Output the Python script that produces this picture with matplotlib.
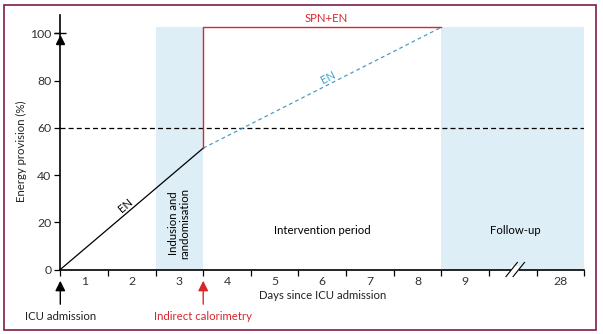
import numpy as np
import matplotlib
matplotlib.use("Agg")
import matplotlib.pyplot as plt
from matplotlib.transforms import blended_transform_factory
from matplotlib.patches import Rectangle

plt.rcParams["font.family"] = ["Lato", "DejaVu Sans"]

# data
en_days = [0, 3]
en_values = [0, 51.4]
en_target_days = [3, 8]
en_target_values = [51.4, 102.6]
spn_days = [3, 3, 8]
spn_values = [51.4, 102.6, 102.6]
threshold = 60
shaded_periods = [(2, 3), (8, 11)]
shade_top = 102.6
yticks = [0, 20, 40, 60, 80, 100]
xtick_pos = np.arange(0, 12)
day_labels = ["1", "2", "3", "4", "5", "6", "7", "8", "9", "", "28"]

RED = "#d8262d"
BLUE = "#4a9cc4"
SHADE = "#ddeef6"
FRAME = "#7a1d4c"
FS = 8.2      # annotation text
TFS = 8.8     # tick labels

fig = plt.figure(figsize=(6.03, 3.34), dpi=100)
ax = fig.add_axes([60.3 / 603, 1 - 269.5 / 334, 524 / 603, 255 / 334])
ax.set_xlim(0, 11)
ax.set_ylim(0, 108)

for x0, x1 in shaded_periods:
    ax.add_patch(Rectangle((x0, 0), x1 - x0, shade_top, color=SHADE, lw=0, zorder=0))

ax.axhline(threshold, color="black", lw=0.9, ls=(0, (4, 2.5)), zorder=1)
ax.plot(en_days, en_values, color="black", lw=0.9, zorder=3)
ax.plot(en_target_days, en_target_values, color=BLUE, lw=0.9, ls=(0, (3, 2.5)), zorder=3)
ax.plot(spn_days, spn_values, color=RED, lw=1.0, zorder=3)


def angle_of(xs, ys):
    p = ax.transData.transform(np.column_stack([xs, ys]))
    return np.degrees(np.arctan2(p[1, 1] - p[0, 1], p[1, 0] - p[0, 0]))


ax.text(1.36, 27.3, "EN", rotation=angle_of(en_days, en_values), ha="center", va="center",
        fontsize=FS, color="black")
ax.text(5.62, 81.5, "EN", rotation=angle_of(en_target_days, en_target_values), ha="center",
        va="center", fontsize=FS, color="#3aa0d0")
ax.text(5.58, 106.3, "SPN+EN", ha="center", va="center", fontsize=FS, color=RED, clip_on=False)

ax.text(2.5, 19.6, "Indusion and\nrandomisation", rotation=90, ha="center", va="center",
        fontsize=FS, linespacing=1.0)
ax.text(5.5, 16.7, "Intervention period", ha="center", va="center", fontsize=FS)
ax.text(9.55, 16.7, "Follow-up", ha="center", va="center", fontsize=FS)

# axes styling
for side in ["top", "right"]:
    ax.spines[side].set_visible(False)
ax.spines["left"].set_linewidth(1.2)
ax.spines["bottom"].set_linewidth(1.2)

ax.set_yticks(yticks)
ax.tick_params(axis="y", length=4.5, width=0.9, labelsize=TFS, pad=2, colors="#333333")
ax.tick_params(axis="y", color="black")
ax.plot([0], [100], marker="_", markersize=9, mew=1.0, color="black", clip_on=False, zorder=5)
ax.plot([0], [97.4], marker="^", markersize=6, color="black", clip_on=False, zorder=5)

ax.set_xticks(xtick_pos)
ax.set_xticklabels([])
ax.tick_params(axis="x", which="major", length=4.5, width=0.9, color="black")
ax.set_xticks(xtick_pos[:-1] + 0.5, minor=True)
ax.set_xticklabels(day_labels, minor=True)
ax.tick_params(axis="x", which="minor", length=0, pad=5, labelsize=TFS, labelcolor="#333333")
ax.set_xlabel("Days since ICU admission", fontsize=FS, labelpad=2, color="#222222")
ax.set_ylabel("Energy provision (%)", fontsize=FS, color="#222222")
ax.yaxis.set_label_coords(-0.064, 0.465)

# axis break marks
ax.plot([9.55], [0], marker="s", markersize=6, color="white", mew=0, clip_on=False, zorder=6)
for dx in (-0.075, 0.075):
    ax.plot([9.43 + dx, 9.67 + dx], [-3.0, 3.0], color="black", lw=0.8, clip_on=False, zorder=7)

# event arrows below the axis
trans = blended_transform_factory(ax.transData, fig.transFigure)
ax.annotate("", xy=(0, 1 - 278 / 334), xytext=(0, 1 - 307 / 334), xycoords=trans,
            textcoords=trans, annotation_clip=False,
            arrowprops=dict(arrowstyle="-|>,head_length=0.6,head_width=0.3", color="black", lw=1.0))
ax.text(0, 1 - 316 / 334, "ICU admission", transform=trans, ha="center", va="center",
        fontsize=FS, color="#222222")
ax.annotate("", xy=(3, 1 - 278 / 334), xytext=(3, 1 - 307 / 334), xycoords=trans,
            textcoords=trans, annotation_clip=False,
            arrowprops=dict(arrowstyle="-|>,head_length=0.6,head_width=0.3", color=RED, lw=1.0))
ax.text(3, 1 - 316 / 334, "Indirect calorimetry", transform=trans, ha="center", va="center",
        fontsize=FS, color=RED)

# outer frame
fig.patches.append(Rectangle((4 / 603, 1 - 330 / 334), 591.5 / 603, 325 / 334,
                             transform=fig.transFigure, fill=False, edgecolor=FRAME, lw=1.2))

fig.savefig("out.png", dpi=100)
